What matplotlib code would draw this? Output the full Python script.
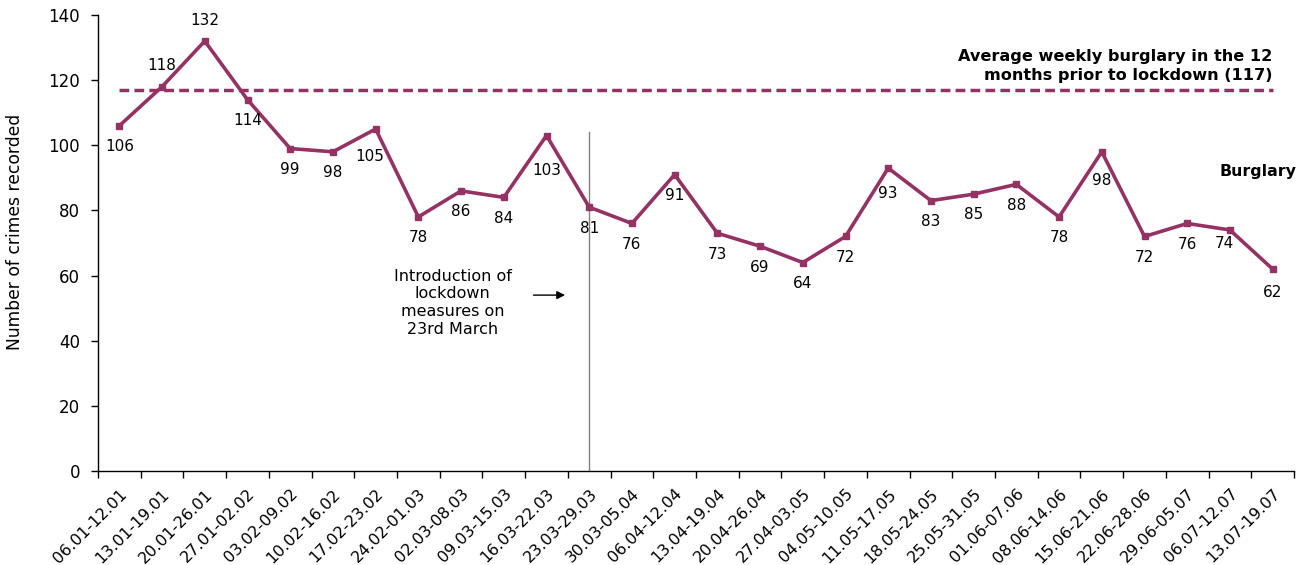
import matplotlib
matplotlib.use("Agg")
import matplotlib.pyplot as plt
from matplotlib.ticker import FixedLocator, NullFormatter
from matplotlib.transforms import ScaledTranslation

plt.rcParams['font.family'] = ['DejaVu Sans']

weeks = ["06.01-12.01", "13.01-19.01", "20.01-26.01", "27.01-02.02", "03.02-09.02",
         "10.02-16.02", "17.02-23.02", "24.02-01.03", "02.03-08.03", "09.03-15.03",
         "16.03-22.03", "23.03-29.03", "30.03-05.04", "06.04-12.04", "13.04-19.04",
         "20.04-26.04", "27.04-03.05", "04.05-10.05", "11.05-17.05", "18.05-24.05",
         "25.05-31.05", "01.06-07.06", "08.06-14.06", "15.06-21.06", "22.06-28.06",
         "29.06-05.07", "06.07-12.07", "13.07-19.07"]
burglary = [106, 118, 132, 114, 99, 98, 105, 78, 86, 84, 103, 81, 76, 91, 73, 69,
            64, 72, 93, 83, 85, 88, 78, 98, 72, 76, 74, 62]
avg_prior = 117
lockdown_week = 11
lockdown_line_top = 104

color = '#953264'

fig = plt.figure(figsize=(13.1, 5.65), dpi=100)
ax = fig.add_axes([98/1310, 1 - 471/565, (1294 - 98)/1310, (471 - 15)/565])

x = list(range(len(weeks)))
ax.plot(x, burglary, color=color, lw=2.6, marker='s', ms=4.5, zorder=3)
ax.plot([0, len(weeks) - 1], [avg_prior, avg_prior], color=color, lw=2.5,
        ls=(0, (2.8, 1.5)), zorder=2)
ax.plot([lockdown_week, lockdown_week], [0, lockdown_line_top], color='#808080',
        lw=1.0, zorder=1)

# data labels: most sit under the point, a few above
offsets = {1: (0, 15), 2: (0, 15), 6: (-4, -20), 10: (0, -25), 18: (0, -18),
           23: (0, -21), 26: (-4, -10), 27: (0, -17)}
for i, v in enumerate(burglary):
    dx, dy = offsets.get(i, (0, -15))
    ax.annotate(str(v), (i, v), xytext=(dx, dy), textcoords='offset points',
                ha='center', va='center', fontsize=11, color='black')

ax.text(len(weeks) - 1, 124.3, "Average weekly burglary in the 12\nmonths prior to lockdown (117)",
        ha='right', va='center', fontsize=11.6, fontweight='bold', linespacing=1.36)
ax.text(1.002, 91.8, "Burglary", transform=ax.get_yaxis_transform(), ha='right',
        va='center', fontsize=11.3, fontweight='bold', clip_on=False)

ax.text(7.8, 51.7, "Introduction of\nlockdown\nmeasures on\n23rd March", ha='center',
        va='center', fontsize=11.5, linespacing=1.22)
ax.annotate("", xy=(10.5, 54.0), xytext=(9.63, 54.0),
            arrowprops=dict(arrowstyle='-|>', color='black', lw=1.0, mutation_scale=12))

ax.set_xlim(-0.5, len(weeks) - 0.5)
ax.set_ylim(0, 140)
ax.set_yticks(range(0, 141, 20))
ax.set_xticks(x)
ax.set_xticklabels(weeks, rotation=45, ha='right', rotation_mode='anchor', fontsize=11.5)
shift = ScaledTranslation(5/100, 0, fig.dpi_scale_trans)
for lbl in ax.get_xticklabels():
    lbl.set_transform(lbl.get_transform() + shift)
ax.xaxis.set_minor_locator(FixedLocator([i - 0.5 for i in range(len(weeks) + 1)]))
ax.xaxis.set_minor_formatter(NullFormatter())
ax.tick_params(axis='x', which='major', length=0, pad=11)
ax.tick_params(axis='x', which='minor', length=5, width=1, direction='out')
ax.tick_params(axis='y', length=5, width=1, direction='out', labelsize=12, pad=8)
ax.set_ylabel("Number of crimes recorded", fontsize=12.3)
ax.yaxis.set_label_coords(-0.062, 0.524)

for s in ['top', 'right']:
    ax.spines[s].set_visible(False)
for s in ['left', 'bottom']:
    ax.spines[s].set_color('black')
    ax.spines[s].set_linewidth(1.0)

fig.savefig("out.png", dpi=100)
